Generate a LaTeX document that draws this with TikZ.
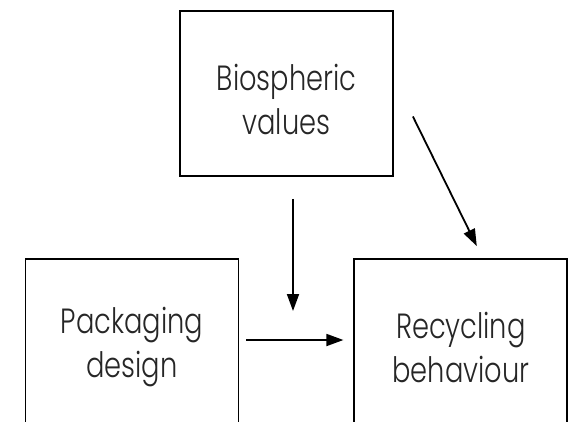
\documentclass[tikz,border=0pt]{standalone}
\usepackage{fontspec}
\setmainfont{Poppins}[UprightFont={* Light}, FakeStretch=0.78]
\usetikzlibrary{arrows.meta,positioning}

\newcommand{\toppad}{\rule{0pt}{38pt}}
\tikzset{
  box/.style={draw, rectangle, line width=1.8pt, minimum width=213pt, minimum height=165pt,
    inner sep=0pt, align=center, font=\fontsize{35}{44}\selectfont, text=black!85},
}

\begin{document}
\begin{tikzpicture}[-{Triangle[length=17pt,width=12pt]}, line width=1.8pt, x=1pt, y=-1pt]
\useasboundingbox (0,0) rectangle (575,421);
\clip (0,0) rectangle (575,421);

\node[box] (bio) at (286.5,93.5) {\toppad Biospheric\\values};
\node[box] (pack) at (132,341.5) {\toppad Packaging\\design};
\node[box] (rec) [right=114pt of pack] {\toppad Recycling\\behaviour};

\coordinate (mod) at (293,340);

\draw[shorten <=7pt, shorten >=10pt] (pack.east |- mod) -- (rec.west |- mod);
\draw[shorten <=22pt, shorten >=29pt] (bio.south -| mod) -- (mod);
\draw ([xshift=19pt,yshift=-23pt]bio.east) -- ([xshift=16pt,yshift=12pt]rec.north);

\end{tikzpicture}
\end{document}
